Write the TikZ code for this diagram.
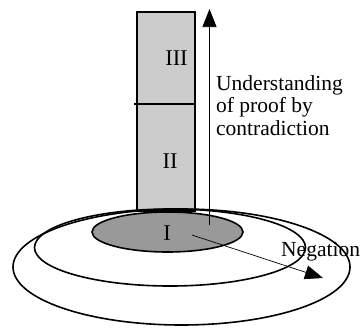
\documentclass[tikz,border=0pt]{standalone}
\usepackage{fontspec}
\setmainfont{Liberation Serif}
\usetikzlibrary{arrows.meta}
\begin{document}
\begin{tikzpicture}[x=1pt,y=-1pt,
  ring/.style={draw=black,line width=1.6pt},
  thin arrow/.style={draw=black,line width=0.7pt,-{Triangle[length=18pt,width=14pt]}},
  lbl/.style={font=\fontsize{22.5}{24}\selectfont,inner sep=0pt,anchor=base},
  txt/.style={font=\fontsize{21.5}{22.5}\selectfont,inner sep=0pt,anchor=base west}]
\useasboundingbox (0,0) rectangle (364,327);
% column
\draw[line width=1.6pt,fill=gray!40] (137,12) rectangle (195,211);
\draw[line width=1.6pt] (134,104) -- (195,104);
% rings
\draw[ring] (181.5,267) ellipse [x radius=168.5pt, y radius=58pt];
\draw[ring] (170,247.5) ellipse [x radius=135.5pt, y radius=38.5pt];
\draw[ring,fill=black!40] (167.5,232) ellipse [x radius=75.5pt, y radius=20pt];
% labels
\node[lbl] (l3) at (176.5,65) {III};
\node[lbl] (l2) at (170,168) {II};
\node[lbl] (l1) at (167,240) {I};
% arrows
\coordinate (ua) at (209.5,225);
\coordinate (ub) at (209.5,9);
\coordinate (na) at (192,235);
\coordinate (nb) at (323,278);
\draw[thin arrow] (ua) -- (ub);
\draw[thin arrow] (na) -- (nb);
% texts
\node[txt] (t1) at (216,90) {Understanding};
\node[txt] (t2) at (216,112.5) {of proof by};
\node[txt] (t3) at (216,135) {contradiction};
\node[txt] (neg) at (281,256) {Negation};
\end{tikzpicture}
\end{document}
